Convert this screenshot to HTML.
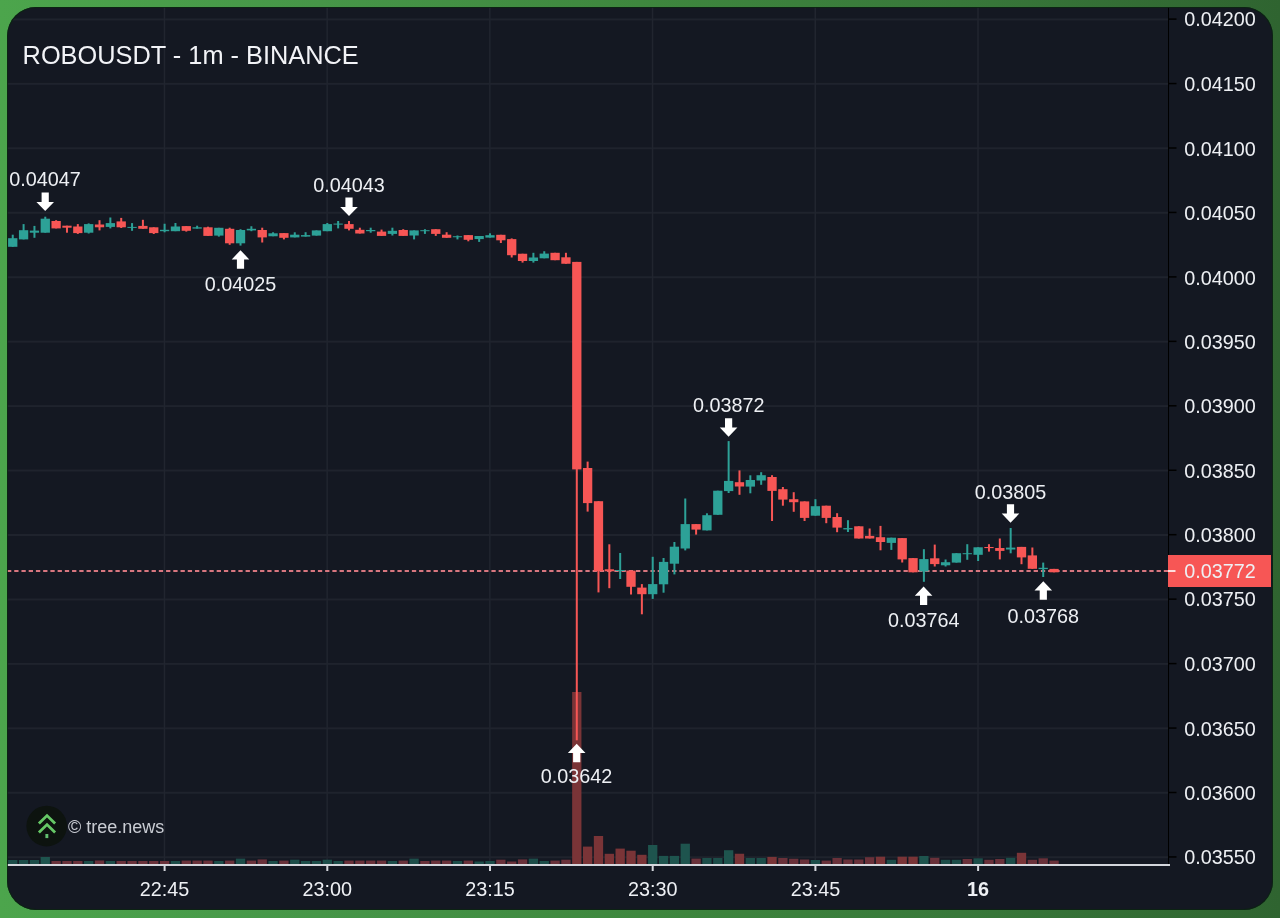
<!DOCTYPE html>
<html><head><meta charset="utf-8"><style>
html,body{margin:0;padding:0;}
body{width:1280px;height:918px;overflow:hidden;background:linear-gradient(90deg,#4ca54c 0%,#469648 25%,#3e873e 50%,#38783a 75%,#2f6430 100%);position:relative;font-family:"Liberation Sans",sans-serif;}
#panel{position:absolute;left:7px;top:7px;width:1265.5px;height:903.2px;border-radius:29px;background:#141822;overflow:hidden;}
#panel svg{position:absolute;left:-7px;top:-7px;will-change:transform;}
#edge{position:absolute;left:7px;top:7px;width:1265.5px;height:903.2px;border-radius:29px;box-shadow:inset 0 0 0 1px rgba(10,38,16,0.85);pointer-events:none;}
.lb{font-family:"Liberation Sans",sans-serif;font-size:19.8px;fill:#eef0f4;}
.b{font-weight:bold;}
.tt{font-family:"Liberation Sans",sans-serif;font-size:25.35px;fill:#f2f3f7;}
.wm{font-family:"Liberation Sans",sans-serif;font-size:18px;fill:#c9ccd3;}
</style></head><body>
<div id="panel"><svg width="1280" height="918" viewBox="0 0 1280 918">
<rect x="7" y="18.4" width="1161" height="2" fill="#1f232d"/>
<rect x="7" y="82.85" width="1161" height="2" fill="#1f232d"/>
<rect x="7" y="147.3" width="1161" height="2" fill="#1f232d"/>
<rect x="7" y="211.75" width="1161" height="2" fill="#1f232d"/>
<rect x="7" y="276.2" width="1161" height="2" fill="#1f232d"/>
<rect x="7" y="340.65" width="1161" height="2" fill="#1f232d"/>
<rect x="7" y="405.1" width="1161" height="2" fill="#1f232d"/>
<rect x="7" y="469.55" width="1161" height="2" fill="#1f232d"/>
<rect x="7" y="534" width="1161" height="2" fill="#1f232d"/>
<rect x="7" y="598.45" width="1161" height="2" fill="#1f232d"/>
<rect x="7" y="662.9" width="1161" height="2" fill="#1f232d"/>
<rect x="7" y="727.35" width="1161" height="2" fill="#1f232d"/>
<rect x="7" y="791.8" width="1161" height="2" fill="#1f232d"/>
<rect x="7" y="856.25" width="1161" height="2" fill="#1f232d"/>
<rect x="163.7" y="7" width="1.5" height="857" fill="#21252f"/>
<rect x="326.4" y="7" width="1.5" height="857" fill="#21252f"/>
<rect x="489.1" y="7" width="1.5" height="857" fill="#21252f"/>
<rect x="651.8" y="7" width="1.5" height="857" fill="#21252f"/>
<rect x="814.5" y="7" width="1.5" height="857" fill="#21252f"/>
<rect x="977.2" y="7" width="1.5" height="857" fill="#21252f"/>
<rect x="8.09" y="860" width="9.3" height="4" fill="#1c4d49"/>
<rect x="18.94" y="860" width="9.3" height="4" fill="#1c4d49"/>
<rect x="29.79" y="860" width="9.3" height="4" fill="#1c4d49"/>
<rect x="40.63" y="857" width="9.3" height="7" fill="#1e544e"/>
<rect x="51.48" y="861" width="9.3" height="3" fill="#6a313a"/>
<rect x="62.33" y="861" width="9.3" height="3" fill="#6a313a"/>
<rect x="73.17" y="861" width="9.3" height="3" fill="#6a313a"/>
<rect x="84.02" y="861" width="9.3" height="3" fill="#1c4d49"/>
<rect x="94.87" y="860.5" width="9.3" height="3.5" fill="#6a313a"/>
<rect x="105.71" y="861" width="9.3" height="3" fill="#1c4d49"/>
<rect x="116.56" y="861" width="9.3" height="3" fill="#6a313a"/>
<rect x="127.41" y="861" width="9.3" height="3" fill="#6a313a"/>
<rect x="138.26" y="861" width="9.3" height="3" fill="#6a313a"/>
<rect x="149.1" y="861" width="9.3" height="3" fill="#6a313a"/>
<rect x="159.95" y="861" width="9.3" height="3" fill="#6a313a"/>
<rect x="170.8" y="861" width="9.3" height="3" fill="#1c4d49"/>
<rect x="181.64" y="860.6" width="9.3" height="3.4" fill="#6a313a"/>
<rect x="192.49" y="860.6" width="9.3" height="3.4" fill="#6a313a"/>
<rect x="203.34" y="860.6" width="9.3" height="3.4" fill="#6a313a"/>
<rect x="214.18" y="861" width="9.3" height="3" fill="#1c4d49"/>
<rect x="225.03" y="860.6" width="9.3" height="3.4" fill="#6a313a"/>
<rect x="235.88" y="858.6" width="9.3" height="5.4" fill="#1c4d49"/>
<rect x="246.73" y="860.6" width="9.3" height="3.4" fill="#6a313a"/>
<rect x="257.57" y="859.4" width="9.3" height="4.6" fill="#6a313a"/>
<rect x="268.42" y="861" width="9.3" height="3" fill="#1c4d49"/>
<rect x="279.27" y="860.6" width="9.3" height="3.4" fill="#6a313a"/>
<rect x="290.11" y="859.7" width="9.3" height="4.3" fill="#1c4d49"/>
<rect x="300.96" y="861" width="9.3" height="3" fill="#1c4d49"/>
<rect x="311.81" y="861" width="9.3" height="3" fill="#1c4d49"/>
<rect x="322.65" y="859.7" width="9.3" height="4.3" fill="#1c4d49"/>
<rect x="333.5" y="861" width="9.3" height="3" fill="#1c4d49"/>
<rect x="344.35" y="860.6" width="9.3" height="3.4" fill="#6a313a"/>
<rect x="355.2" y="860.6" width="9.3" height="3.4" fill="#6a313a"/>
<rect x="366.04" y="860.6" width="9.3" height="3.4" fill="#6a313a"/>
<rect x="376.89" y="860.6" width="9.3" height="3.4" fill="#6a313a"/>
<rect x="387.74" y="861" width="9.3" height="3" fill="#1c4d49"/>
<rect x="398.58" y="860.6" width="9.3" height="3.4" fill="#6a313a"/>
<rect x="409.43" y="858.6" width="9.3" height="5.4" fill="#1c4d49"/>
<rect x="420.28" y="861" width="9.3" height="3" fill="#6a313a"/>
<rect x="431.12" y="860.6" width="9.3" height="3.4" fill="#6a313a"/>
<rect x="441.97" y="860.6" width="9.3" height="3.4" fill="#6a313a"/>
<rect x="452.82" y="861" width="9.3" height="3" fill="#1c4d49"/>
<rect x="463.67" y="860.6" width="9.3" height="3.4" fill="#6a313a"/>
<rect x="474.51" y="861.5" width="9.3" height="2.5" fill="#1c4d49"/>
<rect x="485.36" y="861" width="9.3" height="3" fill="#1c4d49"/>
<rect x="496.21" y="859.7" width="9.3" height="4.3" fill="#6a313a"/>
<rect x="507.05" y="861.5" width="9.3" height="2.5" fill="#6a313a"/>
<rect x="517.9" y="859.4" width="9.3" height="4.6" fill="#6a313a"/>
<rect x="528.75" y="858.6" width="9.3" height="5.4" fill="#1c4d49"/>
<rect x="539.6" y="861" width="9.3" height="3" fill="#1c4d49"/>
<rect x="550.44" y="860.6" width="9.3" height="3.4" fill="#6a313a"/>
<rect x="561.29" y="859.7" width="9.3" height="4.3" fill="#6a313a"/>
<rect x="572.14" y="692" width="9.3" height="172" fill="#7a3437"/>
<rect x="582.98" y="846.6" width="9.3" height="17.4" fill="#7a3437"/>
<rect x="593.83" y="836" width="9.3" height="28" fill="#7a3437"/>
<rect x="604.68" y="853.8" width="9.3" height="10.2" fill="#7a3437"/>
<rect x="615.52" y="848.6" width="9.3" height="15.4" fill="#7a3437"/>
<rect x="626.37" y="850.7" width="9.3" height="13.3" fill="#7a3437"/>
<rect x="637.22" y="854.8" width="9.3" height="9.2" fill="#7a3437"/>
<rect x="648.06" y="845" width="9.3" height="19" fill="#1e544e"/>
<rect x="658.91" y="855.9" width="9.3" height="8.1" fill="#1e544e"/>
<rect x="669.76" y="855.9" width="9.3" height="8.1" fill="#1e544e"/>
<rect x="680.61" y="843.7" width="9.3" height="20.3" fill="#1e544e"/>
<rect x="691.45" y="858.6" width="9.3" height="5.4" fill="#6a313a"/>
<rect x="702.3" y="858" width="9.3" height="6" fill="#1c4d49"/>
<rect x="713.15" y="858" width="9.3" height="6" fill="#1c4d49"/>
<rect x="723.99" y="850.2" width="9.3" height="13.8" fill="#1e544e"/>
<rect x="734.84" y="853.75" width="9.3" height="10.25" fill="#7a3437"/>
<rect x="745.69" y="858" width="9.3" height="6" fill="#1c4d49"/>
<rect x="756.53" y="858" width="9.3" height="6" fill="#1c4d49"/>
<rect x="767.38" y="856.9" width="9.3" height="7.1" fill="#7a3437"/>
<rect x="778.23" y="858" width="9.3" height="6" fill="#6a313a"/>
<rect x="789.08" y="858.75" width="9.3" height="5.25" fill="#6a313a"/>
<rect x="799.92" y="859.5" width="9.3" height="4.5" fill="#6a313a"/>
<rect x="810.77" y="860" width="9.3" height="4" fill="#1c4d49"/>
<rect x="821.62" y="860.6" width="9.3" height="3.4" fill="#6a313a"/>
<rect x="832.46" y="858" width="9.3" height="6" fill="#6a313a"/>
<rect x="843.31" y="859.5" width="9.3" height="4.5" fill="#6a313a"/>
<rect x="854.16" y="859.5" width="9.3" height="4.5" fill="#6a313a"/>
<rect x="865" y="857.2" width="9.3" height="6.8" fill="#6a313a"/>
<rect x="875.85" y="856.7" width="9.3" height="7.3" fill="#7a3437"/>
<rect x="886.7" y="859.8" width="9.3" height="4.2" fill="#1c4d49"/>
<rect x="897.55" y="856.7" width="9.3" height="7.3" fill="#7a3437"/>
<rect x="908.39" y="856.7" width="9.3" height="7.3" fill="#7a3437"/>
<rect x="919.24" y="856" width="9.3" height="8" fill="#1e544e"/>
<rect x="930.09" y="857.8" width="9.3" height="6.2" fill="#6a313a"/>
<rect x="940.93" y="859.8" width="9.3" height="4.2" fill="#1c4d49"/>
<rect x="951.78" y="859.8" width="9.3" height="4.2" fill="#1c4d49"/>
<rect x="962.63" y="859" width="9.3" height="5" fill="#6a313a"/>
<rect x="973.48" y="858.3" width="9.3" height="5.7" fill="#1c4d49"/>
<rect x="984.32" y="859.8" width="9.3" height="4.2" fill="#6a313a"/>
<rect x="995.17" y="859" width="9.3" height="5" fill="#6a313a"/>
<rect x="1006.02" y="857.8" width="9.3" height="6.2" fill="#1c4d49"/>
<rect x="1016.86" y="852.8" width="9.3" height="11.2" fill="#7a3437"/>
<rect x="1027.71" y="859.8" width="9.3" height="4.2" fill="#6a313a"/>
<rect x="1038.56" y="858.3" width="9.3" height="5.7" fill="#6a313a"/>
<rect x="1049.4" y="860.6" width="9.3" height="3.4" fill="#6a313a"/>
<line x1="7" y1="571" x2="1168" y2="571" stroke="#d8767f" stroke-width="2" stroke-dasharray="4.3 2.93"/>
<rect x="11.74" y="234.7" width="2" height="12.1" fill="#2da197"/>
<rect x="8.09" y="238.2" width="9.3" height="8.6" fill="#2da197"/>
<rect x="22.59" y="224.1" width="2" height="15.3" fill="#2da197"/>
<rect x="18.94" y="230.2" width="9.3" height="9.2" fill="#2da197"/>
<rect x="33.44" y="225.9" width="2" height="11.9" fill="#2da197"/>
<rect x="29.79" y="230.6" width="9.3" height="2.1" fill="#2da197"/>
<rect x="44.28" y="216.7" width="2" height="16" fill="#2da197"/>
<rect x="40.63" y="218.7" width="9.3" height="14" fill="#2da197"/>
<rect x="55.13" y="220.2" width="2" height="8.2" fill="#f75655"/>
<rect x="51.48" y="221" width="9.3" height="7.4" fill="#f75655"/>
<rect x="65.98" y="225.7" width="2" height="7" fill="#f75655"/>
<rect x="62.33" y="225.7" width="9.3" height="2" fill="#f75655"/>
<rect x="76.82" y="224.1" width="2" height="9.8" fill="#f75655"/>
<rect x="73.17" y="226.5" width="9.3" height="6.6" fill="#f75655"/>
<rect x="87.67" y="223.4" width="2" height="10.1" fill="#2da197"/>
<rect x="84.02" y="224.1" width="9.3" height="8.6" fill="#2da197"/>
<rect x="98.52" y="220.2" width="2" height="10.2" fill="#f75655"/>
<rect x="94.87" y="224.5" width="9.3" height="2.8" fill="#f75655"/>
<rect x="109.36" y="217.5" width="2" height="10.9" fill="#2da197"/>
<rect x="105.71" y="223.1" width="9.3" height="3.8" fill="#2da197"/>
<rect x="120.21" y="217.9" width="2" height="10.1" fill="#f75655"/>
<rect x="116.56" y="221.4" width="9.3" height="5.9" fill="#f75655"/>
<rect x="131.06" y="223.1" width="2" height="7.7" fill="#2da197"/>
<rect x="127.41" y="226.9" width="9.3" height="1" fill="#2da197"/>
<rect x="141.91" y="219.8" width="2" height="9" fill="#f75655"/>
<rect x="138.26" y="225.9" width="9.3" height="2.9" fill="#f75655"/>
<rect x="152.75" y="227.3" width="2" height="6.7" fill="#f75655"/>
<rect x="149.1" y="227.3" width="9.3" height="5.8" fill="#f75655"/>
<rect x="163.6" y="223.75" width="2" height="8.55" fill="#2da197"/>
<rect x="159.95" y="229.8" width="9.3" height="1.4" fill="#2da197"/>
<rect x="174.45" y="223" width="2" height="8.2" fill="#2da197"/>
<rect x="170.8" y="226.5" width="9.3" height="4.7" fill="#2da197"/>
<rect x="185.29" y="226.1" width="2" height="5.5" fill="#f75655"/>
<rect x="181.64" y="226.1" width="9.3" height="4.7" fill="#f75655"/>
<rect x="196.14" y="225.7" width="2" height="2.9" fill="#2da197"/>
<rect x="192.49" y="227.3" width="9.3" height="1.3" fill="#2da197"/>
<rect x="206.99" y="226.7" width="2" height="9.2" fill="#f75655"/>
<rect x="203.34" y="227.3" width="9.3" height="8.6" fill="#f75655"/>
<rect x="217.83" y="227.8" width="2" height="8.8" fill="#2da197"/>
<rect x="214.18" y="227.8" width="9.3" height="7.8" fill="#2da197"/>
<rect x="228.68" y="227.7" width="2" height="17.1" fill="#f75655"/>
<rect x="225.03" y="228.8" width="9.3" height="14.5" fill="#f75655"/>
<rect x="239.53" y="229.2" width="2" height="16.4" fill="#2da197"/>
<rect x="235.88" y="230" width="9.3" height="13.3" fill="#2da197"/>
<rect x="250.38" y="226.25" width="2" height="4.95" fill="#2da197"/>
<rect x="246.73" y="228.8" width="9.3" height="1.6" fill="#2da197"/>
<rect x="261.22" y="227.7" width="2" height="14.8" fill="#f75655"/>
<rect x="257.57" y="230" width="9.3" height="7.4" fill="#f75655"/>
<rect x="272.07" y="232.3" width="2" height="3.95" fill="#2da197"/>
<rect x="268.42" y="233.3" width="9.3" height="2.95" fill="#2da197"/>
<rect x="282.92" y="233.1" width="2" height="6.3" fill="#f75655"/>
<rect x="279.27" y="233.1" width="9.3" height="4.7" fill="#f75655"/>
<rect x="293.76" y="232.3" width="2" height="5.1" fill="#2da197"/>
<rect x="290.11" y="234.7" width="9.3" height="2.7" fill="#2da197"/>
<rect x="304.61" y="232.2" width="2" height="4.4" fill="#2da197"/>
<rect x="300.96" y="235.1" width="9.3" height="1.5" fill="#2da197"/>
<rect x="315.46" y="230.4" width="2" height="5.2" fill="#2da197"/>
<rect x="311.81" y="230.4" width="9.3" height="5.2" fill="#2da197"/>
<rect x="326.3" y="223" width="2" height="8.2" fill="#2da197"/>
<rect x="322.65" y="224.1" width="9.3" height="7.1" fill="#2da197"/>
<rect x="337.15" y="221" width="2" height="7.4" fill="#2da197"/>
<rect x="333.5" y="223.6" width="9.3" height="1" fill="#2da197"/>
<rect x="348" y="221" width="2" height="9.4" fill="#f75655"/>
<rect x="344.35" y="224.1" width="9.3" height="4.7" fill="#f75655"/>
<rect x="358.85" y="227.7" width="2" height="5.8" fill="#f75655"/>
<rect x="355.2" y="229.8" width="9.3" height="3.7" fill="#f75655"/>
<rect x="369.69" y="227.7" width="2" height="5" fill="#2da197"/>
<rect x="366.04" y="230" width="9.3" height="1.2" fill="#2da197"/>
<rect x="380.54" y="229.6" width="2" height="6.3" fill="#f75655"/>
<rect x="376.89" y="231.6" width="9.3" height="4.3" fill="#f75655"/>
<rect x="391.39" y="227.7" width="2" height="7.8" fill="#2da197"/>
<rect x="387.74" y="230.8" width="9.3" height="3.1" fill="#2da197"/>
<rect x="402.23" y="229.2" width="2" height="6.7" fill="#f75655"/>
<rect x="398.58" y="230" width="9.3" height="5.9" fill="#f75655"/>
<rect x="413.08" y="230.4" width="2" height="9" fill="#2da197"/>
<rect x="409.43" y="230.4" width="9.3" height="5.1" fill="#2da197"/>
<rect x="423.93" y="229.2" width="2" height="4.7" fill="#2da197"/>
<rect x="420.28" y="230.2" width="9.3" height="1" fill="#2da197"/>
<rect x="434.77" y="229.2" width="2" height="6.7" fill="#f75655"/>
<rect x="431.12" y="229.2" width="9.3" height="4.7" fill="#f75655"/>
<rect x="445.62" y="232.2" width="2" height="5.6" fill="#f75655"/>
<rect x="441.97" y="234.7" width="9.3" height="3.1" fill="#f75655"/>
<rect x="456.47" y="235.5" width="2" height="3.9" fill="#2da197"/>
<rect x="452.82" y="236.25" width="9.3" height="1" fill="#2da197"/>
<rect x="467.32" y="235.1" width="2" height="6.2" fill="#f75655"/>
<rect x="463.67" y="235.1" width="9.3" height="4.7" fill="#f75655"/>
<rect x="478.16" y="236" width="2" height="5.9" fill="#2da197"/>
<rect x="474.51" y="236" width="9.3" height="3.1" fill="#2da197"/>
<rect x="489.01" y="233.3" width="2" height="4.3" fill="#2da197"/>
<rect x="485.36" y="235.2" width="9.3" height="2.4" fill="#2da197"/>
<rect x="499.86" y="234.8" width="2" height="8.2" fill="#f75655"/>
<rect x="496.21" y="234.8" width="9.3" height="5.5" fill="#f75655"/>
<rect x="510.7" y="238.4" width="2" height="19.1" fill="#f75655"/>
<rect x="507.05" y="239.1" width="9.3" height="16.1" fill="#f75655"/>
<rect x="521.55" y="253.75" width="2" height="8.85" fill="#f75655"/>
<rect x="517.9" y="253.75" width="9.3" height="7.25" fill="#f75655"/>
<rect x="532.4" y="252.8" width="2" height="9.8" fill="#2da197"/>
<rect x="528.75" y="257.5" width="9.3" height="3.5" fill="#2da197"/>
<rect x="543.25" y="251.25" width="2" height="7.05" fill="#2da197"/>
<rect x="539.6" y="253.6" width="9.3" height="4.7" fill="#2da197"/>
<rect x="554.09" y="252.8" width="2" height="7.4" fill="#f75655"/>
<rect x="550.44" y="252.8" width="9.3" height="7.4" fill="#f75655"/>
<rect x="564.94" y="252.8" width="2" height="10.95" fill="#f75655"/>
<rect x="561.29" y="257.3" width="9.3" height="6.45" fill="#f75655"/>
<rect x="575.79" y="261.9" width="2" height="478.4" fill="#f75655"/>
<rect x="572.14" y="261.9" width="9.3" height="207.5" fill="#f75655"/>
<rect x="586.63" y="461.6" width="2" height="50" fill="#f75655"/>
<rect x="582.98" y="468" width="9.3" height="35.1" fill="#f75655"/>
<rect x="597.48" y="501.2" width="2" height="91.2" fill="#f75655"/>
<rect x="593.83" y="501.2" width="9.3" height="70" fill="#f75655"/>
<rect x="608.33" y="544.3" width="2" height="43.9" fill="#f75655"/>
<rect x="604.68" y="569.3" width="9.3" height="2" fill="#f75655"/>
<rect x="619.17" y="553" width="2" height="26" fill="#2da197"/>
<rect x="615.52" y="570" width="9.3" height="1" fill="#2da197"/>
<rect x="630.02" y="570.6" width="2" height="23.9" fill="#f75655"/>
<rect x="626.37" y="570.6" width="9.3" height="16.2" fill="#f75655"/>
<rect x="640.87" y="584.1" width="2" height="30.2" fill="#f75655"/>
<rect x="637.22" y="587.6" width="9.3" height="6.6" fill="#f75655"/>
<rect x="651.71" y="556.8" width="2" height="42.1" fill="#2da197"/>
<rect x="648.06" y="584.1" width="9.3" height="10.1" fill="#2da197"/>
<rect x="662.56" y="558" width="2" height="34.7" fill="#2da197"/>
<rect x="658.91" y="561.9" width="9.3" height="22.4" fill="#2da197"/>
<rect x="673.41" y="542" width="2" height="32.4" fill="#2da197"/>
<rect x="669.76" y="546.7" width="9.3" height="17" fill="#2da197"/>
<rect x="684.26" y="498.5" width="2" height="51.9" fill="#2da197"/>
<rect x="680.61" y="524.1" width="9.3" height="24.4" fill="#2da197"/>
<rect x="695.1" y="524.1" width="2" height="10.5" fill="#f75655"/>
<rect x="691.45" y="524.1" width="9.3" height="5.5" fill="#f75655"/>
<rect x="705.95" y="513.3" width="2" height="17.1" fill="#2da197"/>
<rect x="702.3" y="515.2" width="9.3" height="15.2" fill="#2da197"/>
<rect x="716.8" y="490.7" width="2" height="24.1" fill="#2da197"/>
<rect x="713.15" y="490.7" width="9.3" height="24.1" fill="#2da197"/>
<rect x="727.64" y="441.1" width="2" height="51.9" fill="#2da197"/>
<rect x="723.99" y="480.9" width="9.3" height="10.2" fill="#2da197"/>
<rect x="738.49" y="470.4" width="2" height="24.4" fill="#f75655"/>
<rect x="734.84" y="482.2" width="9.3" height="4.3" fill="#f75655"/>
<rect x="749.34" y="475.3" width="2" height="18" fill="#2da197"/>
<rect x="745.69" y="480" width="9.3" height="6.6" fill="#2da197"/>
<rect x="760.18" y="472.2" width="2" height="12.6" fill="#2da197"/>
<rect x="756.53" y="475.2" width="9.3" height="5.3" fill="#2da197"/>
<rect x="771.03" y="475.2" width="2" height="45.8" fill="#f75655"/>
<rect x="767.38" y="477" width="9.3" height="13.9" fill="#f75655"/>
<rect x="781.88" y="487" width="2" height="18.7" fill="#f75655"/>
<rect x="778.23" y="489.2" width="9.3" height="10.4" fill="#f75655"/>
<rect x="792.73" y="492.2" width="2" height="19.6" fill="#f75655"/>
<rect x="789.08" y="499.2" width="9.3" height="3" fill="#f75655"/>
<rect x="803.57" y="501.4" width="2" height="19.6" fill="#f75655"/>
<rect x="799.92" y="501.4" width="9.3" height="16.5" fill="#f75655"/>
<rect x="814.42" y="499.2" width="2" height="16.5" fill="#2da197"/>
<rect x="810.77" y="506.2" width="9.3" height="9.5" fill="#2da197"/>
<rect x="825.27" y="505.7" width="2" height="17.5" fill="#f75655"/>
<rect x="821.62" y="505.7" width="9.3" height="12.2" fill="#f75655"/>
<rect x="836.11" y="513.2" width="2" height="19" fill="#f75655"/>
<rect x="832.46" y="517" width="9.3" height="10.6" fill="#f75655"/>
<rect x="846.96" y="520.2" width="2" height="11.8" fill="#2da197"/>
<rect x="843.31" y="528.1" width="9.3" height="1.3" fill="#2da197"/>
<rect x="857.81" y="526.3" width="2" height="12.2" fill="#f75655"/>
<rect x="854.16" y="526.3" width="9.3" height="12.2" fill="#f75655"/>
<rect x="868.65" y="528.5" width="2" height="10" fill="#f75655"/>
<rect x="865" y="535.9" width="9.3" height="2.6" fill="#f75655"/>
<rect x="879.5" y="525.9" width="2" height="24.4" fill="#f75655"/>
<rect x="875.85" y="537.2" width="9.3" height="4.8" fill="#f75655"/>
<rect x="890.35" y="537.7" width="2" height="12.2" fill="#2da197"/>
<rect x="886.7" y="537.7" width="9.3" height="5.2" fill="#2da197"/>
<rect x="901.2" y="538.1" width="2" height="24.4" fill="#f75655"/>
<rect x="897.55" y="538.1" width="9.3" height="21.3" fill="#f75655"/>
<rect x="912.04" y="558.1" width="2" height="14.2" fill="#f75655"/>
<rect x="908.39" y="558.1" width="9.3" height="14.2" fill="#f75655"/>
<rect x="922.89" y="549.2" width="2" height="32.6" fill="#2da197"/>
<rect x="919.24" y="559.1" width="9.3" height="12.4" fill="#2da197"/>
<rect x="933.74" y="544.6" width="2" height="21.9" fill="#f75655"/>
<rect x="930.09" y="558.3" width="9.3" height="5.8" fill="#f75655"/>
<rect x="944.58" y="559.5" width="2" height="7" fill="#2da197"/>
<rect x="940.93" y="562.2" width="9.3" height="3.1" fill="#2da197"/>
<rect x="955.43" y="553.2" width="2" height="9.4" fill="#2da197"/>
<rect x="951.78" y="553.2" width="9.3" height="9.4" fill="#2da197"/>
<rect x="966.28" y="544.2" width="2" height="15.6" fill="#2da197"/>
<rect x="962.63" y="553.2" width="9.3" height="1" fill="#2da197"/>
<rect x="977.12" y="547.3" width="2" height="13.7" fill="#2da197"/>
<rect x="973.48" y="547.3" width="9.3" height="7.5" fill="#2da197"/>
<rect x="987.97" y="544.2" width="2" height="7.4" fill="#f75655"/>
<rect x="984.32" y="547" width="9.3" height="1.1" fill="#f75655"/>
<rect x="998.82" y="538.5" width="2" height="20.9" fill="#f75655"/>
<rect x="995.17" y="548" width="9.3" height="2.9" fill="#f75655"/>
<rect x="1009.67" y="528" width="2" height="25.3" fill="#2da197"/>
<rect x="1006.02" y="547.6" width="9.3" height="1.9" fill="#2da197"/>
<rect x="1020.51" y="546.9" width="2" height="17.3" fill="#f75655"/>
<rect x="1016.86" y="546.9" width="9.3" height="10.5" fill="#f75655"/>
<rect x="1031.36" y="547.5" width="2" height="21.3" fill="#f75655"/>
<rect x="1027.71" y="555.4" width="9.3" height="13.4" fill="#f75655"/>
<rect x="1042.21" y="562.6" width="2" height="14.4" fill="#2da197"/>
<rect x="1038.56" y="567.8" width="9.3" height="1.3" fill="#2da197"/>
<rect x="1053.05" y="568.9" width="2" height="3.4" fill="#f75655"/>
<rect x="1049.4" y="568.9" width="9.3" height="3.4" fill="#f75655"/>
<polygon fill="#ffffff" points="41.6,192.6 48.8,192.6 48.8,201.9 54,201.9 45.2,211.1 36.4,201.9 41.6,201.9"/>
<polygon fill="#ffffff" points="345.4,197.6 352.6,197.6 352.6,206.9 357.8,206.9 349,216.1 340.2,206.9 345.4,206.9"/>
<polygon fill="#ffffff" points="236.9,268.7 244.1,268.7 244.1,259.4 249.3,259.4 240.5,250.2 231.7,259.4 236.9,259.4"/>
<polygon fill="#ffffff" points="725,418.3 732.2,418.3 732.2,427.6 737.4,427.6 728.6,436.8 719.8,427.6 725,427.6"/>
<polygon fill="#ffffff" points="1006.9,504.3 1014.1,504.3 1014.1,513.6 1019.3,513.6 1010.5,522.8 1001.7,513.6 1006.9,513.6"/>
<polygon fill="#ffffff" points="920,605.1 927.2,605.1 927.2,595.8 932.4,595.8 923.6,586.6 914.8,595.8 920,595.8"/>
<polygon fill="#ffffff" points="1039.7,599.75 1046.9,599.75 1046.9,590.45 1052.1,590.45 1043.3,581.25 1034.5,590.45 1039.7,590.45"/>
<polygon fill="#ffffff" points="573.1,762.3 580.3,762.3 580.3,753 585.5,753 576.7,743.8 567.9,753 573.1,753"/>
<text x="45" y="186.1" text-anchor="middle" class="lb">0.04047</text>
<text x="349" y="191.8" text-anchor="middle" class="lb">0.04043</text>
<text x="240.4" y="291" text-anchor="middle" class="lb">0.04025</text>
<text x="728.8" y="411.8" text-anchor="middle" class="lb">0.03872</text>
<text x="1010.5" y="498.9" text-anchor="middle" class="lb">0.03805</text>
<text x="923.8" y="627" text-anchor="middle" class="lb">0.03764</text>
<text x="1043.3" y="622.7" text-anchor="middle" class="lb">0.03768</text>
<text x="576.6" y="783" text-anchor="middle" class="lb">0.03642</text>
<rect x="1168" y="7" width="1" height="857.5" fill="#000000"/>
<rect x="1169" y="18.35" width="7.5" height="1.5" fill="#000000"/>
<text x="1184.3" y="26" class="lb">0.04200</text>
<rect x="1169" y="82.8" width="7.5" height="1.5" fill="#000000"/>
<text x="1184.3" y="91" class="lb">0.04150</text>
<rect x="1169" y="147.25" width="7.5" height="1.5" fill="#000000"/>
<text x="1184.3" y="156" class="lb">0.04100</text>
<rect x="1169" y="211.7" width="7.5" height="1.5" fill="#000000"/>
<text x="1184.3" y="220" class="lb">0.04050</text>
<rect x="1169" y="276.15" width="7.5" height="1.5" fill="#000000"/>
<text x="1184.3" y="285" class="lb">0.04000</text>
<rect x="1169" y="340.6" width="7.5" height="1.5" fill="#000000"/>
<text x="1184.3" y="349" class="lb">0.03950</text>
<rect x="1169" y="405.05" width="7.5" height="1.5" fill="#000000"/>
<text x="1184.3" y="413" class="lb">0.03900</text>
<rect x="1169" y="469.5" width="7.5" height="1.5" fill="#000000"/>
<text x="1184.3" y="478" class="lb">0.03850</text>
<rect x="1169" y="533.95" width="7.5" height="1.5" fill="#000000"/>
<text x="1184.3" y="542" class="lb">0.03800</text>
<rect x="1169" y="598.4" width="7.5" height="1.5" fill="#000000"/>
<text x="1184.3" y="606" class="lb">0.03750</text>
<rect x="1169" y="662.85" width="7.5" height="1.5" fill="#000000"/>
<text x="1184.3" y="671" class="lb">0.03700</text>
<rect x="1169" y="727.3" width="7.5" height="1.5" fill="#000000"/>
<text x="1184.3" y="736" class="lb">0.03650</text>
<rect x="1169" y="791.75" width="7.5" height="1.5" fill="#000000"/>
<text x="1184.3" y="800" class="lb">0.03600</text>
<rect x="1169" y="856.2" width="7.5" height="1.5" fill="#000000"/>
<text x="1184.3" y="864" class="lb">0.03550</text>
<rect x="7" y="864" width="1163" height="2" fill="#d4d6dc"/>
<rect x="163.6" y="865" width="2" height="6" fill="#d4d6dc"/>
<text x="164.6" y="896" text-anchor="middle" class="lb">22:45</text>
<rect x="326.3" y="865" width="2" height="6" fill="#d4d6dc"/>
<text x="327.3" y="896" text-anchor="middle" class="lb">23:00</text>
<rect x="489" y="865" width="2" height="6" fill="#d4d6dc"/>
<text x="490" y="896" text-anchor="middle" class="lb">23:15</text>
<rect x="651.7" y="865" width="2" height="6" fill="#d4d6dc"/>
<text x="652.7" y="896" text-anchor="middle" class="lb">23:30</text>
<rect x="814.4" y="865" width="2" height="6" fill="#d4d6dc"/>
<text x="815.4" y="896" text-anchor="middle" class="lb">23:45</text>
<rect x="977.1" y="865" width="2" height="6" fill="#d4d6dc"/>
<text x="978.1" y="896" text-anchor="middle" class="lb b">16</text>
<rect x="1168" y="555" width="103" height="32" fill="#f75655"/>
<rect x="1168" y="570.2" width="7.5" height="1.6" fill="#ffffff"/>
<text x="1184.3" y="578.1" class="lb">0.03772</text>
<text x="22.6" y="63.6" class="tt">ROBOUSDT - 1m - BINANCE</text>
<circle cx="46.7" cy="826.1" r="20.3" fill="#0d130f"/>
<g fill="none" stroke="#66c866" stroke-width="2.8" stroke-linecap="butt" stroke-linejoin="miter">
<polyline points="38.9,823.6 47,815.6 55.1,823.6"/>
<polyline points="38.9,832.6 47,824.6 55.1,832.6"/>
</g>
<rect x="45.4" y="834" width="2.9" height="4.1" fill="#62c070"/>
<text x="68" y="833" class="wm">© tree.news</text>
</svg></div>
<div id="edge"></div>
</body></html>
